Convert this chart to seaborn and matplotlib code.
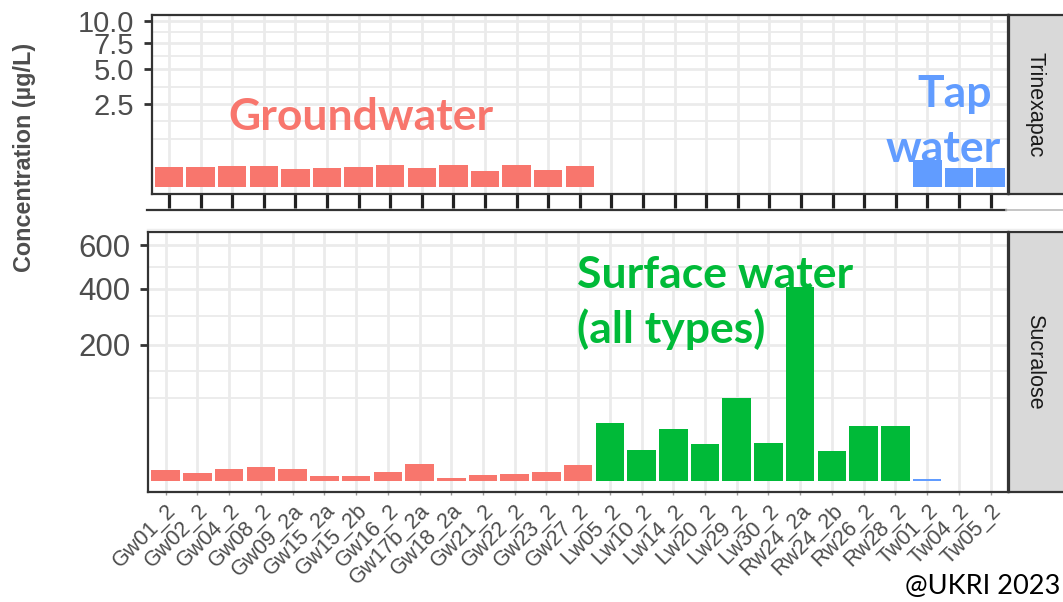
import numpy as np
import pandas as pd
import matplotlib
matplotlib.use("Agg")
import matplotlib.pyplot as plt
from matplotlib.ticker import FixedLocator, NullFormatter
import seaborn as sns

# ---------------- data ----------------
samples = ["Gw01_2", "Gw02_2", "Gw04_2", "Gw08_2", "Gw09_2a", "Gw15_2a", "Gw15_2b",
           "Gw16_2", "Gw17b_2a", "Gw18_2a", "Gw21_2", "Gw22_2", "Gw23_2", "Gw27_2",
           "Lw05_2", "Lw10_2", "Lw14_2", "Lw20_2", "Lw29_2", "Lw30_2",
           "Rw24_2a", "Rw24_2b", "Rw26_2", "Rw28_2",
           "Tw01_2", "Tw04_2", "Tw05_2"]
water_type = (["Groundwater"] * 14) + (["Surface water"] * 10) + (["Tap water"] * 3)

nan = np.nan
trinexapac = [0.149, 0.140, 0.159, 0.164, 0.117, 0.130, 0.149, 0.175, 0.126, 0.175,
              0.093, 0.175, 0.104, 0.159,
              nan, nan, nan, nan, nan, nan, nan, nan, nan, nan,
              0.263, 0.130, 0.130]
sucralose = [1.2, 0.56, 1.36, 1.9, 1.36, 0.22, 0.25, 0.84, 2.95, 0.05,
             0.33, 0.42, 0.84, 2.6,
             35.5, 10.1, 28.4, 14.5, 73.3, 15.0, 407.0, 9.6, 32.2, 32.2,
             0.016, 0.0, 0.0]

compounds = ["Trinexapac", "Sucralose"]
type_order = ["Groundwater", "Surface water", "Tap water"]
palette = {"Groundwater": "#F8766D", "Surface water": "#00BA38", "Tap water": "#619CFF"}

trin_major = [2.5, 5.0, 7.5, 10.0]
trin_labels = ["2.5", "5.0", "7.5", "10.0"]
trin_minor = [0.84, 1.56, 3.64, 6.19, 8.7]
sucr_major = [200, 400, 600]
sucr_labels = ["200", "400", "600"]
sucr_minor = [73, 131, 295, 495]

df = pd.DataFrame({"sample": samples * 2,
                   "type": water_type * 2,
                   "compound": ["Trinexapac"] * len(samples) + ["Sucralose"] * len(samples),
                   "value": trinexapac + sucralose}).dropna()

# ---------------- figure ----------------
W, H = 1063, 602
fig = plt.figure(figsize=(W / 100, H / 100), dpi=100)
fig.patch.set_facecolor("white")
FONT = "Liberation Sans"


def box(x0, y0, x1, y1):
    return [x0 / W, 1 - y1 / H, (x1 - x0) / W, (y1 - y0) / H]


def fwd(x):
    x = np.asarray(x, dtype=float)
    return np.sign(x) * np.sqrt(np.abs(x))


def inv(s):
    s = np.asarray(s, dtype=float)
    return np.sign(s) * s ** 2


ax_top = fig.add_axes(box(151.7, 15, 1008, 194.3))
ax_bot = fig.add_axes(box(148.3, 231.7, 1008, 491.7))

specs = [
    (ax_top, "Trinexapac", (-0.019, 10.69), trin_major, trin_labels, trin_minor, 21),
    (ax_bot, "Sucralose", (-1.36, 671.7), sucr_major, sucr_labels, sucr_minor, 22.5),
]

for ax, comp, ylim, major, labels, minor, lsize in specs:
    sub = df[df["compound"] == comp]
    sns.barplot(data=sub, x="sample", y="value", hue="type", order=samples,
                hue_order=type_order, palette=palette, dodge=False, width=0.9,
                saturation=1, linewidth=0, legend=False, errorbar=None, ax=ax)
    ax.set_yscale("function", functions=(fwd, inv))
    ax.set_ylim(*ylim)
    ax.set_xlim(-0.55, len(samples) - 0.45)
    ax.yaxis.set_major_locator(FixedLocator(major))
    ax.set_yticklabels(labels)
    ax.yaxis.set_minor_locator(FixedLocator(minor))
    ax.yaxis.set_minor_formatter(NullFormatter())
    ax.set_facecolor("white")
    ax.set_axisbelow(True)
    ax.grid(True, which="major", axis="both", color="#EBEBEB", linewidth=2.0)
    ax.grid(True, which="minor", axis="y", color="#EBEBEB", linewidth=1.3)
    ax.tick_params(axis="y", which="major", length=5.8, width=2.0, color="#333333",
                   labelsize=lsize, labelcolor="#4D4D4D", pad=7)
    ax.tick_params(axis="y", which="minor", length=0)
    for lab in ax.get_yticklabels():
        lab.set_fontfamily(FONT)
    for sp in ax.spines.values():
        sp.set_color("#333333")
        sp.set_linewidth(1.6)
    ax.set_xlabel("")
    ax.set_ylabel("")

# top panel: ticks only, no labels
ax_top.tick_params(axis="x", length=10, width=2.3, color="#222222", labelbottom=False)
# bottom panel: rotated labels
ax_bot.tick_params(axis="x", length=2, width=1, color="#999999", pad=4)
ax_bot.set_xticks(range(len(samples)))
ax_bot.set_xticklabels(samples, rotation=45, ha="right", va="top",
                       rotation_mode="anchor", fontsize=15.5, color="#4D4D4D",
                       fontfamily=FONT)

# facet strips
for (y0, y1, label, ty) in [(15, 194.3, "Trinexapac", 105), (231.7, 491.7, "Sucralose", 362)]:
    sax = fig.add_axes(box(1009, y0, 1075, y1))
    sax.set_facecolor("#D9D9D9")
    sax.set_xticks([])
    sax.set_yticks([])
    for sp in sax.spines.values():
        sp.set_color("#333333")
        sp.set_linewidth(1.6)
    fig.text(1035 / W, 1 - ty / H, label, rotation=270, ha="center", va="center",
             fontsize=15.5, color="#1A1A1A", fontfamily=FONT)

# separator lines between the pasted panels
fig.add_artist(plt.Line2D([147 / W, 1006 / W], [1 - 210 / H, 1 - 210 / H],
                          color="#333333", linewidth=1.6))
fig.add_artist(plt.Line2D([1006 / W, 1.0], [1 - 210 / H, 1 - 210 / H],
                          color="#BBBBBB", linewidth=1.2))
fig.add_artist(plt.Line2D([147 / W, 1.0], [1 - 229 / H, 1 - 229 / H],
                          color="#EEEEEE", linewidth=1.0))

# y axis title
fig.text(25 / W, 1 - 157 / H, "Concentration (µg/L)", rotation=90, ha="center",
         va="center", fontsize=16.8, fontweight="bold", color="#4D4D4D", fontfamily=FONT)

# annotations
ANN = "Lato"
fig.text(228 / W, 1 - 130 / H, "Groundwater", fontsize=32, fontweight="bold",
         color="#F8766D", fontfamily=ANN, ha="left", va="baseline")
fig.text(955 / W, 1 - 107 / H, "Tap", fontsize=32, fontweight="bold",
         color="#619CFF", fontfamily=ANN, ha="center", va="baseline")
fig.text(943 / W, 1 - 162 / H, "water", fontsize=32, fontweight="bold",
         color="#619CFF", fontfamily=ANN, ha="center", va="baseline")
fig.text(577 / W, 1 - 288 / H, "Surface water", fontsize=32, fontweight="bold",
         color="#00BA38", fontfamily=ANN, ha="left", va="baseline")
fig.text(577 / W, 1 - 343 / H, "(all types)", fontsize=32, fontweight="bold",
         color="#00BA38", fontfamily=ANN, ha="left", va="baseline")
fig.text(1060 / W, 1 - 594 / H, "@UKRI 2023", fontsize=19.5, color="#000000",
         fontfamily=ANN, ha="right", va="baseline")

fig.savefig("out.png", dpi=100, facecolor="white")
